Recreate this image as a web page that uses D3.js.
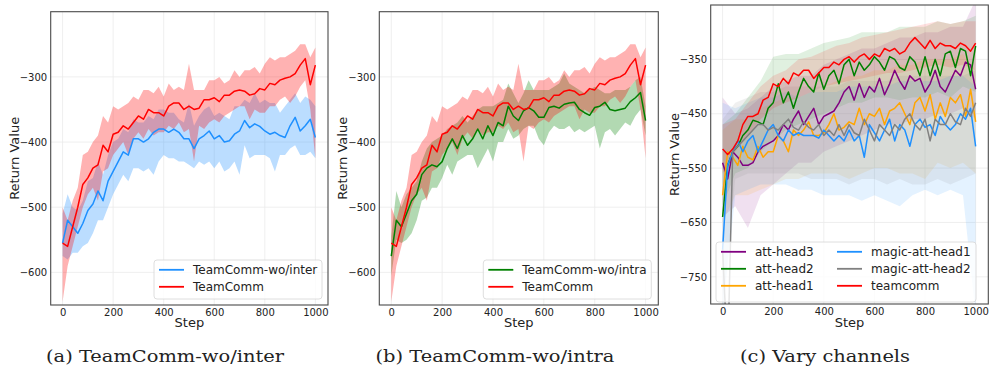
<!DOCTYPE html>
<html>
<head>
<meta charset="utf-8">
<script src="https://cdn.jsdelivr.net/npm/d3@7"></script>
<style>
  body { margin: 0; background: #fff; }
  svg text { font-family: "DejaVu Sans", sans-serif; fill: #222; }
</style>
</head>
<body>
<svg id="chart" width="990" height="369"></svg>
<script>
// x positions: training steps, sampled every 20 (bands in panel c every 50)
const steps = d3.range(0, 1001, 20);
const bandStepsC = d3.range(0, 1001, 50);
const xTicks = [0, 200, 400, 600, 800, 1000];
const yTicksAB = [-600, -500, -400, -300];
const yTicksC = [-750, -650, -550, -450, -350];

// TeamComm (shared by panels a and b)
const teamMean = [
  -555, -560, -530, -500, -465, -455, -440, -435, -405, -415,
  -388, -385, -375, -380, -370, -360, -365, -350, -355, -355,
  -360, -345, -340, -340, -350, -345, -350, -348, -335, -335,
  -332, -338, -328, -328, -322, -320, -322, -328, -326, -318,
  -320, -310, -312, -305, -302, -300, -295, -282, -272, -312,
  -282];
const teamLo = [
  -645, -590, -560, -530, -500, -480, -470, -490, -445, -440,
  -420, -410, -400, -420, -395, -385, -395, -380, -390, -385,
  -385, -375, -380, -370, -385, -380, -430, -375, -380, -370,
  -365, -370, -360, -355, -350, -345, -345, -365, -350, -355,
  -355, -345, -345, -335, -330, -340, -330, -315, -305, -350,
  -425];
const teamHi = [
  -500, -520, -490, -470, -420, -415, -400, -390, -360, -370,
  -345, -350, -345, -340, -330, -335, -320, -320, -325, -315,
  -330, -310, -320, -315, -320, -280, -320, -320, -320, -305,
  -305, -300, -310, -305, -290, -300, -290, -290, -285, -295,
  -280, -270, -275, -270, -270, -265, -260, -250, -250, -270,
  -255];

// TeamComm-wo/inter
const interMean = [
  -555, -520, -530, -540, -525, -505, -495, -475, -490, -460,
  -445, -430, -415, -420, -395, -395, -400, -395, -385, -380,
  -380, -385, -380, -385, -395, -395, -410, -395, -390, -383,
  -395, -390, -400, -398, -388, -383, -367, -378, -372, -376,
  -383, -388, -385, -390, -393, -375, -362, -383, -375, -365,
  -393];
const interLo = [
  -575, -580, -570, -570, -560, -555, -540, -520, -520, -500,
  -480, -465, -450, -460, -440, -440, -445, -440, -450, -430,
  -420, -425, -425, -430, -430, -435, -440, -430, -435, -430,
  -440, -430, -445, -440, -430, -450, -405, -425, -420, -420,
  -420, -425, -445, -420, -420, -410, -405, -420, -420, -415,
  -425];
const interHi = [
  -510, -480, -500, -505, -490, -460, -455, -430, -450, -420,
  -400, -395, -380, -385, -365, -370, -370, -360, -365, -350,
  -350, -355, -355, -365, -370, -340, -375, -360, -350, -345,
  -360, -355, -360, -365, -345, -345, -335, -340, -325, -340,
  -335, -340, -340, -355, -345, -335, -325, -340, -330, -335,
  -345];

// TeamComm-wo/intra
const intraMean = [
  -575, -520, -530, -510, -490, -480, -450, -440, -435, -438,
  -430, -410, -395, -410, -390, -405, -395, -380, -395, -375,
  -390, -370, -375, -345, -360, -367, -352, -347, -352, -362,
  -362, -347, -345, -348, -342, -340, -339, -350, -355, -359,
  -347, -345, -339, -350, -352, -350, -348, -338, -332, -324,
  -367];
const intraLo = [
  -605, -550, -555, -550, -540, -520, -490, -485, -470, -470,
  -455, -435, -450, -430, -425, -420, -420, -440, -425, -410,
  -430, -400, -400, -380, -395, -390, -380, -375, -375, -395,
  -405, -385, -375, -380, -380, -375, -385, -380, -385, -380,
  -375, -410, -385, -380, -390, -380, -370, -375, -360, -350,
  -390];
const intraHi = [
  -545, -475, -500, -480, -470, -460, -430, -410, -400, -395,
  -390, -380, -375, -370, -360, -370, -360, -350, -345, -345,
  -345, -340, -335, -310, -325, -340, -325, -305, -320, -320,
  -320, -320, -315, -310, -295, -310, -315, -320, -325, -320,
  -315, -320, -325, -325, -320, -320, -320, -315, -305, -300,
  -345];

// Panel c: vary channels
const head3Mean = [
  -540, -570, -520, -530, -545, -545, -540, -520, -510, -505,
  -500, -490, -470, -480, -460, -445, -470, -455, -440, -470,
  -455, -450, -445, -430, -410, -400, -425, -395, -420, -400,
  -410, -385, -415, -395, -370, -390, -405, -380, -390, -385,
  -410, -395, -370, -400, -410, -390, -370, -380, -355, -360,
  -405];
const head2Mean = [
  -640, -545, -520, -510, -490, -480, -462, -465, -470, -440,
  -430, -395, -430, -410, -440, -410, -385, -400, -410, -375,
  -405, -380, -370, -395, -360, -350, -380, -355, -370, -360,
  -345, -355, -370, -345, -350, -365, -370, -345, -355, -380,
  -345, -380, -350, -380, -340, -335, -365, -330, -335, -380,
  -325];
const head1Mean = [
  -600, -520, -530, -545, -510, -530, -535, -510, -530, -520,
  -520, -490, -500, -520, -480, -490, -480, -465, -490, -490,
  -485, -470, -450, -480, -475, -465, -470, -440, -470, -450,
  -455, -440, -470, -445, -440, -430, -450, -470, -430, -420,
  -445, -415, -460, -430, -455, -420, -430, -415, -455, -405,
  -465];
const magic1Mean = [
  -700, -545, -520, -500, -520, -500, -490, -520, -500, -480,
  -470, -490, -500, -480, -490, -485, -490, -490, -490, -495,
  -480, -490, -500, -490, -500, -480, -500, -490, -530, -470,
  -485, -500, -480, -460, -500, -470, -480, -510, -470, -460,
  -475, -470, -490, -455, -470, -480, -470, -450, -460, -440,
  -510];
const magic2Mean = [
  -700, -900, -520, -510, -500, -490, -480, -470, -470, -480,
  -475, -480, -470, -460, -475, -480, -465, -475, -480, -470,
  -490, -480, -490, -470, -490, -470, -485, -490, -460, -480,
  -500, -470, -480, -490, -470, -480, -460, -450, -470, -480,
  -460, -500, -460, -470, -470, -450, -465, -470, -440, -455,
  -430];
const teamCMean = [
  -515, -525, -515, -500, -470, -455, -455, -450, -425, -420,
  -395, -400, -385, -395, -375, -380, -370, -370, -385, -375,
  -365, -365, -355, -360, -350, -345, -355, -345, -340, -350,
  -340, -345, -330, -335, -330, -340, -335, -320, -310, -320,
  -330, -315, -330, -320, -325, -325, -330, -320, -325, -335,
  -320];

// panel c bands (every 50 steps)
const head3Lo = [-640, -620, -660, -600, -580, -560, -540, -540, -520, -510, -500, -490, -480, -470, -470, -460, -460, -450, -450, -440, -460];
const head3Hi = [-420, -450, -440, -420, -400, -390, -380, -380, -360, -350, -340, -330, -330, -320, -310, -310, -300, -300, -290, -290, -240];
const head2Lo = [-620, -560, -550, -520, -500, -480, -470, -460, -450, -440, -430, -430, -420, -420, -425, -420, -420, -410, -420, -400, -410];
const head2Hi = [-470, -450, -420, -390, -345, -340, -340, -330, -320, -315, -310, -300, -300, -300, -290, -290, -290, -280, -285, -280, -270];
const head1Lo = [-650, -600, -600, -590, -580, -570, -570, -560, -560, -560, -570, -560, -550, -550, -560, -560, -570, -540, -550, -540, -560];
const head1Hi = [-480, -460, -460, -440, -430, -420, -420, -410, -400, -390, -380, -380, -370, -370, -360, -360, -350, -350, -350, -340, -370];
const magic1Lo = [-820, -600, -590, -580, -580, -580, -590, -590, -600, -600, -600, -610, -600, -610, -620, -600, -590, -600, -590, -600, -820];
const magic1Hi = [-430, -440, -430, -420, -420, -410, -420, -410, -410, -410, -400, -400, -400, -400, -390, -390, -390, -390, -380, -380, -400];
const magic2Lo = [-820, -570, -560, -560, -560, -560, -560, -570, -570, -570, -580, -570, -570, -580, -570, -580, -580, -570, -580, -570, -560];
const magic2Hi = [-460, -430, -420, -410, -410, -400, -400, -400, -400, -400, -390, -390, -390, -390, -380, -380, -380, -380, -380, -380, -370];
const teamCLo = [-560, -520, -490, -460, -440, -430, -420, -410, -400, -395, -390, -385, -380, -375, -375, -370, -365, -360, -365, -360, -370];
const teamCHi = [-470, -460, -430, -400, -380, -370, -350, -345, -335, -325, -320, -310, -305, -300, -295, -290, -285, -280, -285, -280, -280];

const colors = {
  red: '#ff0000', blue: '#1e90ff', green: '#008000',
  purple: '#800080', orange: '#ffa500', gray: '#808080'
};

const svg = d3.select('#chart');
const defs = svg.append('defs');

const panels = [
  {
    id: 'a', left: 50.7, right: 328, top: 11.7, bottom: 305,
    yDomain: [-650, -200], yTicks: yTicksAB, bandAlpha: 0.3,
    caption: '(a) TeamComm-wo/inter', capX: 165,
    series: [
      { label: 'TeamComm-wo/inter', color: colors.blue, mean: interMean, lo: interLo, hi: interHi, bx: steps },
      { label: 'TeamComm', color: colors.red, mean: teamMean, lo: teamLo, hi: teamHi, bx: steps }
    ],
    legend: { x: 154, y: 260, w: 168, h: 39, cols: 1 }
  },
  {
    id: 'b', left: 379.3, right: 658.3, top: 11.7, bottom: 305,
    yDomain: [-650, -200], yTicks: yTicksAB, bandAlpha: 0.3,
    caption: '(b) TeamComm-wo/intra', capX: 495,
    series: [
      { label: 'TeamComm-wo/intra', color: colors.green, mean: intraMean, lo: intraLo, hi: intraHi, bx: steps },
      { label: 'TeamComm', color: colors.red, mean: teamMean, lo: teamLo, hi: teamHi, bx: steps }
    ],
    legend: { x: 483.3, y: 260, w: 168, h: 39, cols: 1 }
  },
  {
    id: 'c', left: 710.7, right: 988.3, top: 5, bottom: 304,
    yDomain: [-800, -250], yTicks: yTicksC, bandAlpha: 0.12,
    caption: '(c) Vary channels', capX: 825,
    series: [
      { label: 'att-head3', color: colors.purple, mean: head3Mean, lo: head3Lo, hi: head3Hi, bx: bandStepsC },
      { label: 'att-head2', color: colors.green, mean: head2Mean, lo: head2Lo, hi: head2Hi, bx: bandStepsC },
      { label: 'att-head1', color: colors.orange, mean: head1Mean, lo: head1Lo, hi: head1Hi, bx: bandStepsC },
      { label: 'magic-att-head1', color: colors.blue, mean: magic1Mean, lo: magic1Lo, hi: magic1Hi, bx: bandStepsC },
      { label: 'magic-att-head2', color: colors.gray, mean: magic2Mean, lo: magic2Lo, hi: magic2Hi, bx: bandStepsC },
      { label: 'teamcomm', color: colors.red, mean: teamCMean, lo: teamCLo, hi: teamCHi, bx: bandStepsC }
    ],
    legend: { x: 716, y: 242, w: 260, h: 60, cols: 2 }
  }
];

const captionNodes = [];
const tickFmt = d3.format('d');

panels.forEach(p => {
  const x = d3.scaleLinear().domain([-47, 1050]).range([p.left, p.right]);
  const y = d3.scaleLinear().domain(p.yDomain).range([p.bottom, p.top]);
  const g = svg.append('g');

  // clip to plot area
  defs.append('clipPath').attr('id', 'clip-' + p.id)
    .append('rect')
    .attr('x', p.left).attr('y', p.top)
    .attr('width', p.right - p.left).attr('height', p.bottom - p.top);

  // grid
  const grid = g.append('g').attr('stroke', '#ebebeb').attr('stroke-width', 0.8);
  grid.selectAll('.gx').data(xTicks).join('line')
    .attr('x1', d => x(d)).attr('x2', d => x(d))
    .attr('y1', p.top).attr('y2', p.bottom);
  grid.selectAll('.gy').data(p.yTicks).join('line')
    .attr('x1', p.left).attr('x2', p.right)
    .attr('y1', d => y(d)).attr('y2', d => y(d));

  const plot = g.append('g').attr('clip-path', `url(#clip-${p.id})`);

  // shaded bands
  p.series.forEach(s => {
    const area = d3.area()
      .x((d, i) => x(s.bx[i]))
      .y0((d, i) => y(s.lo[i]))
      .y1((d, i) => y(s.hi[i]));
    plot.append('path')
      .attr('d', area(s.lo))
      .attr('fill', s.color)
      .attr('fill-opacity', p.bandAlpha)
      .attr('stroke', 'none');
  });

  // mean lines
  const line = d3.line()
    .x((d, i) => x(steps[i]))
    .y(d => y(d));
  p.series.forEach(s => {
    plot.append('path')
      .attr('d', line(s.mean))
      .attr('fill', 'none')
      .attr('stroke', s.color)
      .attr('stroke-width', 1.5)
      .attr('stroke-linejoin', 'round');
  });

  // frame
  g.append('rect')
    .attr('x', p.left).attr('y', p.top)
    .attr('width', p.right - p.left).attr('height', p.bottom - p.top)
    .attr('fill', 'none').attr('stroke', '#4a4a4a').attr('stroke-width', 1.1);

  // axes (labels only, no tick marks)
  const xAxis = g.append('g')
    .attr('transform', `translate(0,${p.bottom})`)
    .call(d3.axisBottom(x).tickValues(xTicks).tickFormat(tickFmt).tickSize(0).tickPadding(4));
  const yAxis = g.append('g')
    .attr('transform', `translate(${p.left},0)`)
    .call(d3.axisLeft(y).tickValues(p.yTicks).tickFormat(tickFmt).tickSize(0).tickPadding(3.5));
  [xAxis, yAxis].forEach(a => {
    a.select('.domain').remove();
    a.selectAll('text')
      .attr('fill', '#222')
      .style('font-family', '"DejaVu Sans", sans-serif')
      .style('font-size', '10px');
  });

  // axis titles
  g.append('text')
    .attr('x', (p.left + p.right) / 2).attr('y', 327)
    .attr('text-anchor', 'middle')
    .style('font-size', '13px')
    .text('Step');
  g.append('text')
    .attr('transform', `translate(${p.left - 32},${(p.top + p.bottom) / 2}) rotate(-90)`)
    .attr('text-anchor', 'middle')
    .style('font-size', '13px')
    .text('Return Value');

  // legend
  const L = p.legend;
  const lg = g.append('g');
  lg.append('rect')
    .attr('x', L.x).attr('y', L.y).attr('width', L.w).attr('height', L.h)
    .attr('rx', 3)
    .attr('fill', '#fff').attr('fill-opacity', 0.8)
    .attr('stroke', '#d6d6d6').attr('stroke-width', 0.8);
  const rows = Math.ceil(p.series.length / L.cols);
  const colW = L.cols === 2 ? 116 : 0;
  p.series.forEach((s, i) => {
    const col = Math.floor(i / rows);
    const row = i % rows;
    const lx = L.x + 5 + col * colW;
    const ly = L.y + 9.8 + row * 17;
    lg.append('line')
      .attr('x1', lx).attr('x2', lx + 25)
      .attr('y1', ly).attr('y2', ly)
      .attr('stroke', s.color).attr('stroke-width', 1.8);
    lg.append('text')
      .attr('x', lx + 34).attr('y', ly + 4.3)
      .style('font-size', '12px')
      .text(s.label);
  });

  // subfigure caption
  const cap = svg.append('text')
    .attr('x', p.capX).attr('y', 362)
    .attr('text-anchor', 'middle')
    .style('font-family', '"DejaVu Serif", serif')
    .style('font-size', '16.5px')
    .attr('fill', '#111')
    .text(p.caption);
  captionNodes.push(cap);
});

// stretch captions so caption (a) is ~238px wide, others in proportion
const baseLen = captionNodes[0].node().getComputedTextLength();
const k = 238 / baseLen;
captionNodes.forEach(c => {
  const len = c.node().getComputedTextLength();
  c.attr('textLength', len * k).attr('lengthAdjust', 'spacingAndGlyphs');
});
</script>
</body>
</html>
